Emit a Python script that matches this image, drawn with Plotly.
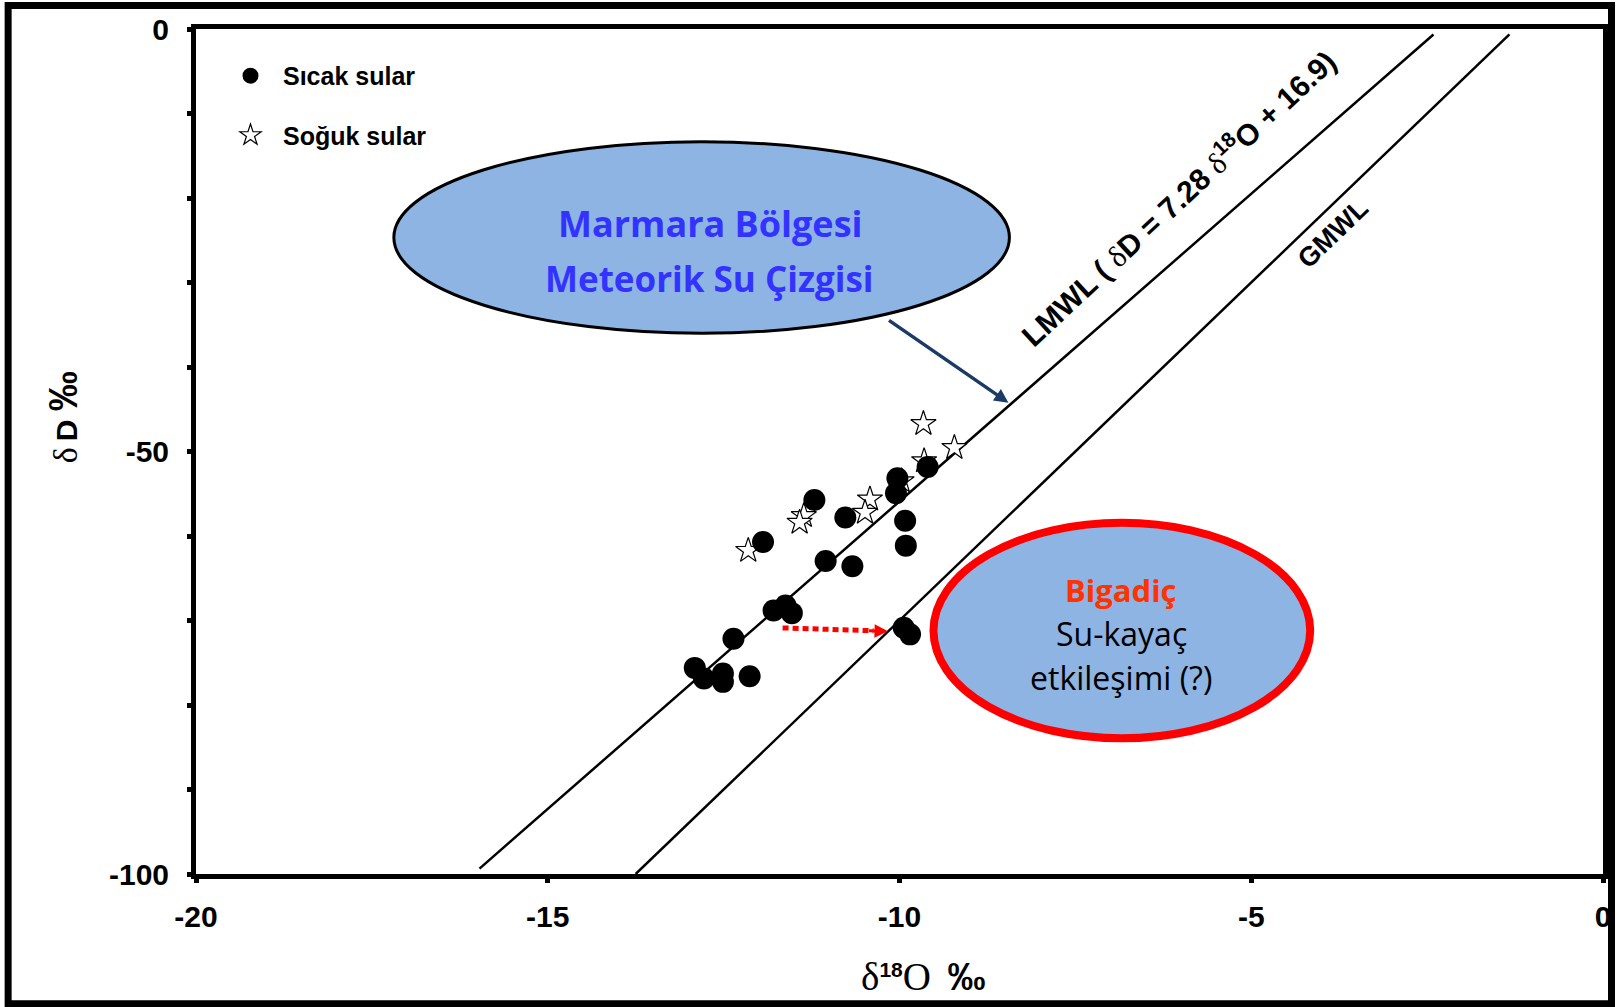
import plotly.graph_objects as go

# ---------------- data ----------------
hot_d18O = [-9.60, -10.03, -10.05, -11.21, -10.77, -9.92, -9.91, -11.94, -11.05, -10.67,
            -11.79, -11.62, -11.53, -12.36, -12.91, -12.78, -12.51, -12.51, -12.13, -9.94, -9.85]
hot_dD = [-51.83, -53.16, -54.93, -55.75, -57.81, -58.20, -61.14, -60.71, -62.95, -63.58,
          -68.81, -68.22, -69.13, -72.15, -75.61, -76.86, -76.27, -77.26, -76.59, -70.85, -71.64]

cold_d18O = [-9.66, -9.22, -9.65, -9.97, -10.42, -10.49, -11.36, -11.42, -12.15]
cold_dD = [-46.72, -49.55, -51.12, -53.48, -55.64, -57.22, -57.61, -58.40, -61.73]

# meteoric water lines: dD = slope * d18O + intercept
lmwl_slope, lmwl_intercept = 7.28, 16.9
gmwl_slope, gmwl_intercept = 8.0, 10.0
lmwl_d18O = [-15.97, -2.41]
gmwl_d18O = [-13.75, -1.33]
lmwl_dD = [lmwl_slope * v + lmwl_intercept for v in lmwl_d18O]
gmwl_dD = [gmwl_slope * v + gmwl_intercept for v in gmwl_d18O]

x_tickvals = [-20, -15, -10, -5, 0]
x_ticktext = ["-20", "-15", "-10", "-5", "0"]
y_tickvals = [0, -10, -20, -30, -40, -50, -60, -70, -80, -90, -100]
y_ticktext = ["0", "", "", "", "", "-50", "", "", "", "", "-100"]

# ---------------- geometry helpers (figure pixels -> data / paper) ----------------
FW, FH = 1623, 1007
ML, MR, MT, MB = 196, 19, 27, 133
PW, PH = FW - ML - MR, FH - MT - MB


def fx(px):
    return -20 + (px - ML) / PW * 20


def fy(py):
    return -(py - MT) / PH * 100


def px_paper(px):
    return (px - ML) / PW


def py_paper(py):
    return (FH - MB - py) / PH


SANS = "Liberation Sans"
CAL = "Open Sans"

fig = go.Figure()

# lines
fig.add_trace(go.Scatter(x=lmwl_d18O, y=lmwl_dD, mode="lines",
                         line=dict(color="black", width=2.5), showlegend=False, hoverinfo="skip"))
fig.add_trace(go.Scatter(x=gmwl_d18O, y=gmwl_dD, mode="lines",
                         line=dict(color="black", width=2.5), showlegend=False, hoverinfo="skip"))

# cold waters (stars)
fig.add_trace(go.Scatter(x=cold_d18O, y=cold_dD, mode="markers", name="Soğuk sular",
                         legendgroup="b", legendrank=2,
                         marker=dict(symbol="star", size=19, color="white",
                                     line=dict(color="black", width=1.2))))
# hot waters (circles)
fig.add_trace(go.Scatter(x=hot_d18O, y=hot_dD, mode="markers", name="Sıcak sular",
                         legendgroup="a", legendrank=1,
                         marker=dict(symbol="circle", size=22, color="black",
                                     line=dict(color="black", width=0))))

shapes = []
# outer frame
shapes.append(dict(type="rect", xref="paper", yref="paper",
                   x0=px_paper(8), x1=px_paper(1612.5), y0=py_paper(1004), y1=py_paper(3.5),
                   line=dict(color="black", width=7), fillcolor="rgba(0,0,0,0)", layer="above"))
# Marmara ellipse
shapes.append(dict(type="circle", xref="x", yref="y",
                   x0=fx(394), x1=fx(1010), y0=fy(332), y1=fy(140),
                   line=dict(color="black", width=3), fillcolor="#8DB4E2", layer="above"))
# Bigadic ellipse
shapes.append(dict(type="circle", xref="x", yref="y",
                   x0=fx(934), x1=fx(1311), y0=fy(738), y1=fy(522),
                   line=dict(color="#FF0000", width=8), fillcolor="#8DB4E2", layer="above"))
# red dotted line
shapes.append(dict(type="line", xref="x", yref="y",
                   x0=fx(783), y0=fy(627.3), x1=fx(874), y1=fy(630.2),
                   line=dict(color="#FF0000", width=5, dash="6px,4px")))

annotations = []
# navy arrow
annotations.append(dict(x=fx(1009), y=fy(401.6), ax=fx(888), ay=fy(318), xref="x", yref="y",
                        axref="x", ayref="y", text="", showarrow=True, arrowhead=2,
                        arrowsize=0.8, arrowwidth=3.5, arrowcolor="#1B3A66", standoff=0))
# red arrow head
annotations.append(dict(x=fx(888.5), y=fy(630.7), ax=fx(868), ay=fy(630.1), xref="x", yref="y",
                        axref="x", ayref="y", text="", showarrow=True, arrowhead=2,
                        arrowsize=0.9, arrowwidth=3, arrowcolor="#FF0000", standoff=0))

# ellipse texts
annotations.append(dict(x=fx(711), y=fy(222), xref="x", yref="y", text="Marmara Bölgesi",
                        showarrow=False, font=dict(family=CAL, size=36, color="#3333FF", weight="bold")))
annotations.append(dict(x=fx(710), y=fy(277), xref="x", yref="y", text="Meteorik Su Çizgisi",
                        showarrow=False, font=dict(family=CAL, size=35, color="#3333FF", weight="bold")))
annotations.append(dict(x=fx(1122), y=fy(589), xref="x", yref="y", text="Bigadiç",
                        showarrow=False, font=dict(family=CAL, size=31, color="#FF3300", weight="bold")))
annotations.append(dict(x=fx(1122), y=fy(633), xref="x", yref="y", text="Su-kayaç",
                        showarrow=False, font=dict(family=CAL, size=32, color="black")))
annotations.append(dict(x=fx(1122), y=fy(677), xref="x", yref="y", text="etkileşimi (?)",
                        showarrow=False, font=dict(family=CAL, size=32, color="black")))

# line labels
delta = "<span style=\"font-family:'Liberation Serif';font-weight:normal\">δ</span>"
annotations.append(dict(x=fx(1178), y=fy(195), xref="x", yref="y",
                        text="LMWL (\u00a0" + delta + "D = 7.28\u00a0" + delta + "<sup>18</sup>O + 16.9)",
                        textangle=-43, showarrow=False,
                        font=dict(family=SANS, size=30, color="black", weight="bold")))
annotations.append(dict(x=fx(1333), y=fy(232), xref="x", yref="y", text="GMWL",
                        textangle=-44, showarrow=False,
                        font=dict(family=SANS, size=27, color="black", weight="bold")))

# axis titles
annotations.append(dict(x=px_paper(39), y=py_paper(416), xref="paper", yref="paper",
                        text="<span style=\"font-family:'Liberation Serif';font-weight:normal;font-size:34px\">δ</span>"
                             "\u2009D\u00a0<span style=\"font-size:40px\">‰</span>",
                        textangle=-90, showarrow=False,
                        font=dict(family=SANS, size=30, color="black", weight="bold")))
annotations.append(dict(x=px_paper(924), y=py_paper(1000), xref="paper", yref="paper",
                        text="<span style=\"font-family:'Liberation Serif';font-weight:normal;font-size:39px\">δ</span>"
                             "<sup><span style=\"font-family:'Liberation Sans';font-weight:bold\">18</span></sup>"
                             "<span style=\"font-family:'Liberation Serif';font-weight:normal;font-size:39px\">O</span>"
                             "\u00a0\u00a0<span style=\"font-size:38px\">‰</span>",
                        showarrow=False,
                        font=dict(family=SANS, size=30, color="black", weight="bold")))

axis_common = dict(showline=True, linewidth=5, linecolor="black", mirror=True,
                   ticks="outside", ticklen=4, tickwidth=5, tickcolor="black",
                   showgrid=False, zeroline=False,
                   tickfont=dict(family=SANS, size=30, color="black", weight="bold"))

fig.update_layout(
    width=FW, height=FH,
    margin=dict(l=ML, r=MR, t=MT, b=MB, pad=0),
    paper_bgcolor="white", plot_bgcolor="white",
    xaxis=dict(range=[-20, 0], tickvals=x_tickvals, ticktext=x_ticktext,
               ticklabelstandoff=8, **axis_common),
    yaxis=dict(range=[-100, 0], tickvals=y_tickvals, ticktext=y_ticktext,
               ticklabelstandoff=12, **axis_common),
    shapes=shapes,
    annotations=annotations,
    showlegend=True,
    legend=dict(x=px_paper(218), y=py_paper(51), xanchor="left", yanchor="top",
                bgcolor="rgba(0,0,0,0)", itemwidth=55, itemsizing="trace",
                tracegroupgap=24, font=dict(family=SANS, size=25, color="black", weight="bold")),
)

fig.write_html("out.html", config={"displayModeBar": False},
               post_script="document.body.style.margin='0';document.body.style.overflow='hidden';")
